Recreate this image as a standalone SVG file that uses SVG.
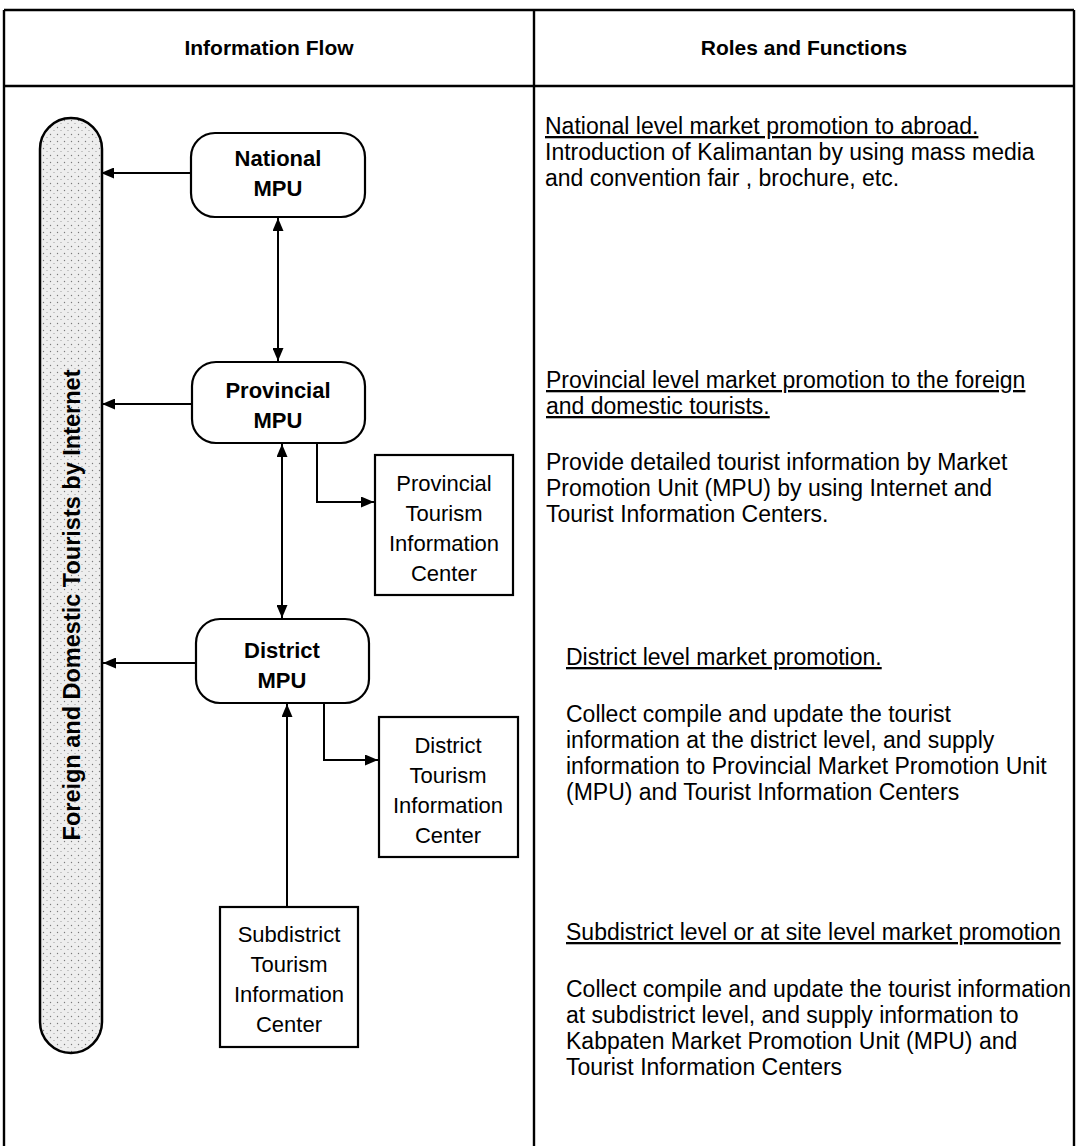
<svg xmlns="http://www.w3.org/2000/svg" width="1078" height="1146" viewBox="0 0 1078 1146">
<style>
  .frame{stroke:#000;stroke-width:2.4;fill:none}
  .box{fill:#fff;stroke:#000;stroke-width:2.2}
  .conn{stroke:#000;stroke-width:2;fill:none}
  .hdr{font-family:"Liberation Sans",Arial,sans-serif;font-weight:bold;font-size:21px;text-anchor:middle;fill:#000}
  .mpu{font-family:"Liberation Sans",Arial,sans-serif;font-weight:bold;font-size:22px;text-anchor:middle;fill:#000}
  .tic{font-family:"Liberation Sans",Arial,sans-serif;font-size:22px;text-anchor:middle;fill:#000}
  .desc{font-family:"Liberation Sans",Arial,sans-serif;font-size:23px;fill:#000}
  .ul{text-decoration:underline}
  .vert{font-family:"Liberation Sans",Arial,sans-serif;font-weight:bold;font-size:23.5px;text-anchor:middle;fill:#000}
</style>
<defs>
  <pattern id="dots" width="7" height="7" patternUnits="userSpaceOnUse">
    <rect width="7" height="7" fill="#eeeeee"/>
    <circle cx="1.5" cy="1.5" r="0.7" fill="#7a7a7a"/>
    <circle cx="5" cy="4.5" r="0.6" fill="#959595"/>
  </pattern>
  <marker id="ah" viewBox="0 0 13 11" refX="13" refY="5.5" markerWidth="13" markerHeight="11" markerUnits="userSpaceOnUse" orient="auto-start-reverse">
    <path d="M0,0 L13,5.5 L0,11 Z" fill="#000"/>
  </marker>
</defs>
<rect width="1078" height="1146" fill="#fff"/>

<g id="frame">
  <line class="frame" x1="4" y1="10" x2="1074" y2="10"/>
  <line class="frame" x1="4" y1="86" x2="1074" y2="86"/>
  <line class="frame" x1="4" y1="10" x2="4" y2="1146"/>
  <line class="frame" x1="1074" y1="10" x2="1074" y2="1146"/>
  <line class="frame" x1="534" y1="10" x2="534" y2="1146"/>
  <text class="hdr" x="269" y="55">Information Flow</text>
  <text class="hdr" x="804" y="55">Roles and Functions</text>
</g>

<g id="tourists">
  <rect x="40" y="118" width="62" height="935" rx="31" ry="31" fill="url(#dots)" stroke="#000" stroke-width="2.5"/>
  <text class="vert" transform="translate(80,605) rotate(-90)">Foreign and Domestic Tourists by Internet</text>
</g>

<g id="national-mpu">
  <rect class="box" x="191" y="133" width="174" height="84" rx="24"/>
  <text class="mpu" x="278" y="166">National</text>
  <text class="mpu" x="278" y="196">MPU</text>
</g>

<g id="provincial-mpu">
  <rect class="box" x="192" y="362" width="173" height="81" rx="24"/>
  <text class="mpu" x="278" y="398">Provincial</text>
  <text class="mpu" x="278" y="428">MPU</text>
</g>

<g id="district-mpu">
  <rect class="box" x="196" y="619" width="173" height="84" rx="24"/>
  <text class="mpu" x="282" y="658">District</text>
  <text class="mpu" x="282" y="688">MPU</text>
</g>

<g id="provincial-tic">
  <rect class="box" x="375" y="455" width="138" height="140"/>
  <text class="tic" x="444" y="491">Provincial</text>
  <text class="tic" x="444" y="521">Tourism</text>
  <text class="tic" x="444" y="551">Information</text>
  <text class="tic" x="444" y="581">Center</text>
</g>

<g id="district-tic">
  <rect class="box" x="379" y="717" width="139" height="140"/>
  <text class="tic" x="448" y="753">District</text>
  <text class="tic" x="448" y="783">Tourism</text>
  <text class="tic" x="448" y="813">Information</text>
  <text class="tic" x="448" y="843">Center</text>
</g>

<g id="subdistrict-tic">
  <rect class="box" x="220" y="907" width="138" height="140"/>
  <text class="tic" x="289" y="942">Subdistrict</text>
  <text class="tic" x="289" y="972">Tourism</text>
  <text class="tic" x="289" y="1002">Information</text>
  <text class="tic" x="289" y="1032">Center</text>
</g>

<g id="connectors">
  <line class="conn" x1="191" y1="173" x2="101" y2="173" marker-end="url(#ah)"/>
  <line class="conn" x1="192" y1="404" x2="102" y2="404" marker-end="url(#ah)"/>
  <line class="conn" x1="196" y1="663" x2="103" y2="663" marker-end="url(#ah)"/>
  <line class="conn" x1="278" y1="218" x2="278" y2="361" marker-start="url(#ah)" marker-end="url(#ah)"/>
  <line class="conn" x1="282" y1="444" x2="282" y2="618" marker-start="url(#ah)" marker-end="url(#ah)"/>
  <line class="conn" x1="287" y1="907" x2="287" y2="704" marker-end="url(#ah)"/>
  <polyline class="conn" points="317,443 317,502 374,502" marker-end="url(#ah)"/>
  <polyline class="conn" points="324,703 324,760 378,760" marker-end="url(#ah)"/>
</g>

<g id="roles">
  <text class="desc ul" x="545" y="134">National level market promotion to abroad.</text>
  <text class="desc" x="545" y="160">Introduction of Kalimantan by using mass media</text>
  <text class="desc" x="545" y="186">and convention fair , brochure, etc.</text>

  <text class="desc ul" x="546" y="388">Provincial level market promotion to the foreign</text>
  <text class="desc ul" x="546" y="414">and domestic tourists.</text>
  <text class="desc" x="546" y="470">Provide detailed tourist information by Market</text>
  <text class="desc" x="546" y="496">Promotion Unit (MPU) by using Internet and</text>
  <text class="desc" x="546" y="522">Tourist Information Centers.</text>

  <text class="desc ul" x="566" y="665">District level market promotion.</text>
  <text class="desc" x="566" y="722">Collect compile and update the tourist</text>
  <text class="desc" x="566" y="748">information at the district level, and supply</text>
  <text class="desc" x="566" y="774">information to Provincial Market Promotion Unit</text>
  <text class="desc" x="566" y="800">(MPU) and Tourist Information Centers</text>

  <text class="desc ul" x="566" y="940">Subdistrict level or at site level market promotion</text>
  <text class="desc" x="566" y="997">Collect compile and update the tourist information</text>
  <text class="desc" x="566" y="1023">at subdistrict level, and supply information to</text>
  <text class="desc" x="566" y="1049">Kabpaten Market Promotion Unit (MPU) and</text>
  <text class="desc" x="566" y="1075">Tourist Information Centers</text>
</g>
</svg>
